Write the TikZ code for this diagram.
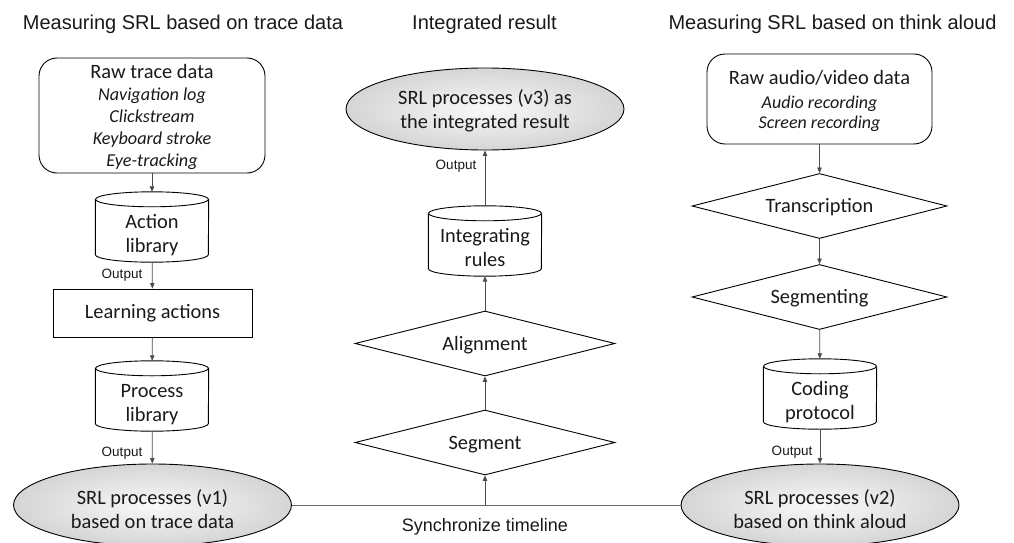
\documentclass[tikz,border=0pt]{standalone}
\usepackage{fontspec}
\setmainfont{Carlito}
\newfontfamily\arialf{Liberation Sans}
\usetikzlibrary{shapes.geometric,arrows.meta}
\newcommand\shiftdown[2]{\raisebox{-#1}[\height][\depth]{\begin{tabular}{@{}c@{}}#2\end{tabular}}}
\newcommand\mycyl[4]{%
  \node[cylbody] (#1) at (#2,#3) {\shiftdown{9pt}{#4}};
  \draw[line width=0.9pt] ([yshift=-7.5pt]#1.north west) -- ([yshift=7.5pt]#1.south west)
     arc[start angle=180,end angle=360,x radius=56.5pt,y radius=7.5pt]
     -- ([yshift=-7.5pt]#1.north east);
  \draw[line width=0.9pt] ([yshift=-7.5pt]#1.north) ellipse[x radius=56.5pt,y radius=7.5pt];
}
\begin{document}
\begin{tikzpicture}[x=1pt,y=-1pt,
  every node/.style={text=black!90},
  ttl/.style={font=\arialf\fontsize{20}{24}\selectfont},
  lbl/.style={font=\arialf\fontsize{13.5}{16}\selectfont},
  boxtxt/.style={font=\fontsize{20.4}{24}\selectfont, align=center},
  rbox/.style={boxtxt, draw, rounded corners=18pt, line width=0.9pt, inner sep=0pt},
  pbox/.style={boxtxt, draw, line width=0.9pt, inner sep=0pt},
  dia/.style={boxtxt, draw, diamond, aspect=4, inner sep=0pt, line width=0.9pt},
  ell/.style={boxtxt, draw, ellipse, inner sep=0pt, line width=0.9pt,
     inner color=gray!5, outer color=gray!33, minimum width=278pt, minimum height=82pt},
  cylbody/.style={boxtxt, minimum width=113pt, minimum height=70pt, inner sep=0pt},
  arr/.style={-{Triangle[length=5.5pt,width=4.5pt]}, line width=0.8pt, draw=black!70},
  tl/.style={line width=0.8pt, draw=black!60},
]
\useasboundingbox (0,0) rectangle (1014,543);

% titles
\node[ttl] (t1) at (183,24) {Measuring SRL based on trace data};
\node[ttl] (t2) at (484.5,24) {Integrated result};
\node[ttl] (t3) at (832.5,24) {Measuring SRL based on think aloud};

% left column
\node[rbox, minimum width=226pt, minimum height=115pt] (raw) at (152,115.5)
  {\shiftdown{2pt}{Raw trace data\\[-2pt]
   {\itshape\fontsize{18.2}{22}\selectfont Navigation log}\\[-2pt]
   {\itshape\fontsize{18.2}{22}\selectfont Clickstream}\\[-2pt]
   {\itshape\fontsize{18.2}{22}\selectfont Keyboard stroke}\\[-2pt]
   {\itshape\fontsize{18.2}{22}\selectfont Eye-tracking}}};
\mycyl{act}{152}{227}{Action\\library}
\node[pbox, minimum width=199pt, minimum height=48pt] (learn) at (152.5,313) {Learning actions};
\mycyl{proc}{152}{396}{Process\\library}
\node[ell] (v1) at (152.5,505) {\shiftdown{7pt}{SRL processes (v1)\\based on trace data}};

% right column
\node[rbox, minimum width=225pt, minimum height=90pt] (rawav) at (819.5,99)
  {\shiftdown{3pt}{Raw audio/video data\\
   {\itshape\fontsize{18}{22}\selectfont Audio recording}\\[-4pt]
   {\itshape\fontsize{18}{22}\selectfont Screen recording}}};
\node[dia, minimum width=255pt, minimum height=65pt] (trans) at (819.5,206) {\shiftdown{2pt}{Transcription}};
\node[dia, minimum width=255pt, minimum height=65pt] (segm) at (819.5,297) {\shiftdown{2pt}{Segmenting}};
\mycyl{code}{820}{394}{Coding\\protocol}
\node[ell] (v2) at (820,505) {\shiftdown{7pt}{SRL processes (v2)\\based on think aloud}};

% middle column
\node[ell] (v3) at (485,109) {\shiftdown{3pt}{SRL processes (v3) as\\the integrated result}};
\mycyl{integ}{485}{241}{Integrating\\rules}
\node[dia, minimum width=260pt, minimum height=65pt] (align) at (485,343.5) {\shiftdown{2pt}{Alignment}};
\node[dia, minimum width=260pt, minimum height=65pt] (seg) at (485,442.5) {\shiftdown{2pt}{Segment}};

% connectors
\draw[arr] (raw) -- (act);
\draw[arr] (act) -- (learn);
\draw[arr] (learn) -- (proc);
\draw[arr] (proc) -- (v1);
\draw[arr] (rawav) -- (trans);
\draw[arr] (trans) -- (segm);
\draw[arr] (segm) -- (code);
\draw[arr] (code) -- (v2);
\draw[tl] (v1) -- (v2);
\coordinate (sync) at (485,505);
\draw[arr] (sync) -- (seg);
\draw[arr] (seg) -- (align);
\draw[arr] (align) -- (integ);
\draw[arr] (integ) -- (v3);

% labels
\node[lbl] (o1) at (122,275) {Output};
\node[lbl] (o2) at (122,453) {Output};
\node[lbl] (o3) at (456,166) {Output};
\node[lbl] (o4) at (792,452) {Output};
\node[font=\arialf\fontsize{18}{22}\selectfont] (synclbl) at (485,527) {Synchronize timeline};
\end{tikzpicture}
\end{document}
